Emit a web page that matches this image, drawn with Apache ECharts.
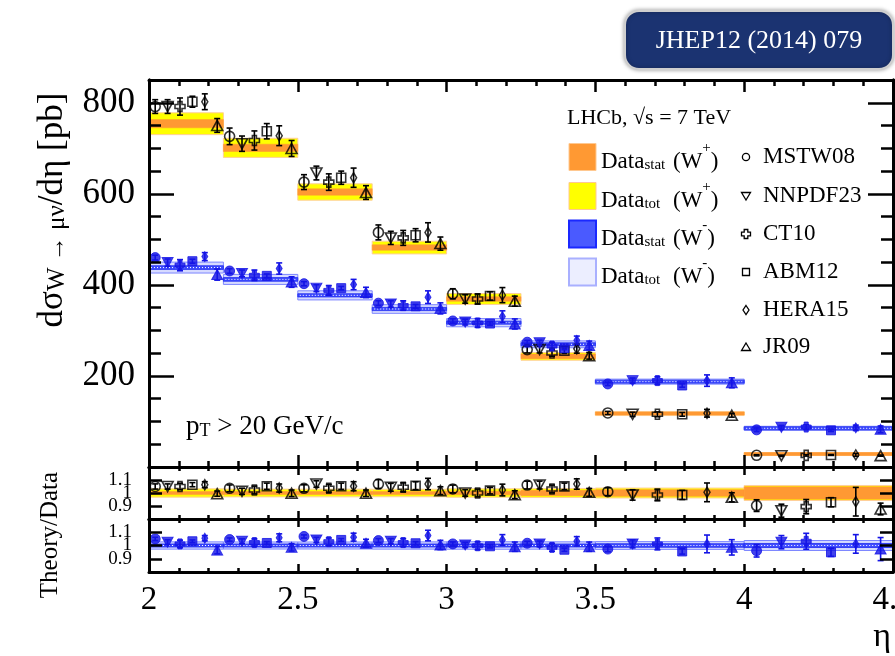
<!DOCTYPE html>
<html>
<head>
<meta charset="utf-8">
<script src="https://cdn.jsdelivr.net/npm/echarts/dist/echarts.min.js"></script>
<style>
  html, body { margin: 0; padding: 0; background: #fff; }
  #chart { width: 895px; height: 656px; }
</style>
</head>
<body>
<div id="chart"></div>
<script>
// ---- eta bins ----
const etaLo = [2.0, 2.25, 2.5, 2.75, 3.0, 3.25, 3.5, 4.0];
const etaHi = [2.25, 2.5, 2.75, 3.0, 3.25, 3.5, 4.0, 4.5];

// ---- measured dsigma/deta [pb] with stat and total uncertainties ----
const wPlus      = [754, 701, 604, 482, 369, 243, 117.5, 28.5];
const wPlusStat  = [9, 8, 7, 6, 5, 5, 3, 1.35];
const wPlusTot   = [24, 21, 18, 14, 12, 8.5, 4.5, 1.65];
const wMinus     = [438, 412, 377, 347, 317, 269.5, 187.5, 85];
const wMinusStat = [4, 4, 3.5, 3.5, 3, 3, 2.5, 1.3];
const wMinusTot  = [12, 11, 10, 9.5, 9, 7.5, 5.5, 3.2];

// ---- theory / data ratios (W+) ----
const mstwPlus  = [1.050, 1.036, 1.036, 1.069, 1.031, 1.061, 1.010, 0.903];
const nnpdfPlus = [1.050, 1.013, 1.069, 1.044, 1.000, 1.061, 0.985, 0.864];
const ct10Plus  = [1.050, 1.023, 1.036, 1.044, 1.000, 1.031, 0.985, 0.895];
const abmPlus   = [1.064, 1.052, 1.052, 1.056, 1.018, 1.051, 0.985, 0.929];
const heraPlus  = [1.064, 1.038, 1.052, 1.069, 1.023, 1.069, 1.005, 0.933];
const jrPlus    = [0.995, 0.998, 0.998, 1.018, 0.987, 1.005, 0.967, 0.877];
const mstwPlusErr  = [0.020, 0.026, 0.027, 0.034, 0.030, 0.030, 0.030, 0.045];
const nnpdfPlusErr = [0.020, 0.024, 0.025, 0.030, 0.025, 0.030, 0.040, 0.050];
const ct10PlusErr  = [0.025, 0.030, 0.030, 0.034, 0.030, 0.030, 0.045, 0.055];
const abmPlusErr   = [0.016, 0.024, 0.024, 0.030, 0.025, 0.025, 0.035, 0.035];
const heraPlusErr  = [0.023, 0.031, 0.035, 0.044, 0.045, 0.040, 0.072, 0.110];
const jrPlusErr    = [0.020, 0.025, 0.025, 0.030, 0.030, 0.030, 0.035, 0.045];

// ---- theory / data ratios (W-) ----
const mstwMinus  = [1.050, 1.045, 1.068, 1.037, 1.012, 1.017, 0.973, 0.960];
const nnpdfMinus = [1.025, 1.032, 1.042, 1.032, 1.004, 1.012, 1.012, 1.025];
const ct10Minus  = [1.012, 1.022, 1.029, 1.022, 0.998, 0.986, 1.012, 1.032];
const abmMinus   = [1.032, 1.019, 1.042, 1.017, 0.994, 0.968, 0.955, 0.948];
const heraMinus  = [1.055, 1.058, 1.063, 1.075, 1.042, 1.032, 1.012, 1.012];
const jrMinus    = [0.965, 0.986, 1.017, 1.004, 0.991, 0.991, 0.986, 0.973];
const mstwMinusErr  = [0.012, 0.012, 0.012, 0.015, 0.015, 0.015, 0.020, 0.047];
const nnpdfMinusErr = [0.018, 0.018, 0.020, 0.020, 0.020, 0.022, 0.030, 0.050];
const ct10MinusErr  = [0.028, 0.028, 0.028, 0.030, 0.030, 0.030, 0.045, 0.060];
const abmMinusErr   = [0.010, 0.010, 0.010, 0.012, 0.012, 0.012, 0.020, 0.030];
const heraMinusErr  = [0.020, 0.030, 0.030, 0.040, 0.040, 0.035, 0.067, 0.070];
const jrMinusErr    = [0.028, 0.028, 0.030, 0.035, 0.035, 0.035, 0.058, 0.087];

const pdfNames = ['MSTW08', 'NNPDF23', 'CT10', 'ABM12', 'HERA15', 'JR09'];

// ---- styling ----
const FONT = '"Liberation Serif", "Times New Roman", "DejaVu Serif", serif';
const BLUE = '#1414e6';
const SYMBOLS = [
  { symbol: 'circle', size: 10 },
  { symbol: 'path://M0,0L10,0L5,9Z', size: [11, 10] },
  { symbol: 'path://M3,0L7,0L7,3L10,3L10,7L7,7L7,10L3,10L3,7L0,7L0,3L3,3Z', size: 10 },
  { symbol: 'rect', size: 9 },
  { symbol: 'diamond', size: [6, 10] },
  { symbol: 'path://M5,0L10,9L0,9Z', size: [11, 10] }
];

const pdfs = [
  { plus: mstwPlus,  plusErr: mstwPlusErr,  minus: mstwMinus,  minusErr: mstwMinusErr },
  { plus: nnpdfPlus, plusErr: nnpdfPlusErr, minus: nnpdfMinus, minusErr: nnpdfMinusErr },
  { plus: ct10Plus,  plusErr: ct10PlusErr,  minus: ct10Minus,  minusErr: ct10MinusErr },
  { plus: abmPlus,   plusErr: abmPlusErr,   minus: abmMinus,   minusErr: abmMinusErr },
  { plus: heraPlus,  plusErr: heraPlusErr,  minus: heraMinus,  minusErr: heraMinusErr },
  { plus: jrPlus,    plusErr: jrPlusErr,    minus: jrMinus,    minusErr: jrMinusErr }
];

// horizontal slot of the i-th prediction inside a bin
function slotX(b, i) {
  return etaLo[b] + (i + 0.5) * (etaHi[b] - etaLo[b]) / 6;
}

// ---- renderers ----
function bandRenderer(fill, stroke, lw, minH, dots) {
  return function (params, api) {
    const lo = api.value(0), hi = api.value(1), c = api.value(2), h = api.value(3);
    const a = api.coord([lo, c + h]);
    const b = api.coord([hi, c - h]);
    let y0 = a[1], y1 = b[1];
    if (y1 - y0 < minH) { const m = (y0 + y1) / 2; y0 = m - minH / 2; y1 = m + minH / 2; }
    const children = [{
      type: 'rect',
      shape: { x: a[0], y: y0, width: b[0] - a[0], height: y1 - y0 },
      style: { fill: fill, stroke: stroke, lineWidth: lw }
    }];
    if (dots) {
      const m = (y0 + y1) / 2;
      children.push({
        type: 'line',
        shape: { x1: a[0] + 2, y1: m, x2: b[0] - 2, y2: m },
        style: { stroke: '#ffffff', lineWidth: 1, lineDash: [1, 2] }
      });
    }
    return { type: 'group', children: children };
  };
}

function errRenderer(color) {
  return function (params, api) {
    const x = api.value(0), y = api.value(1), e = api.value(2);
    const t = api.coord([x, y + e]);
    const d = api.coord([x, y - e]);
    const cw = 3;
    const st = { stroke: color, lineWidth: 1.6 };
    return {
      type: 'group',
      children: [
        { type: 'line', shape: { x1: t[0], y1: t[1], x2: d[0], y2: d[1] }, style: st },
        { type: 'line', shape: { x1: t[0] - cw, y1: t[1], x2: t[0] + cw, y2: t[1] }, style: st },
        { type: 'line', shape: { x1: d[0] - cw, y1: d[1], x2: d[0] + cw, y2: d[1] }, style: st }
      ]
    };
  };
}

function bandSeries(xi, yi, rows, fill, stroke, lw, minH, dots, z) {
  return {
    type: 'custom', xAxisIndex: xi, yAxisIndex: yi, clip: true, z: z,
    renderItem: bandRenderer(fill, stroke, lw, minH, dots),
    encode: { x: [0, 1], y: 2 },
    data: rows
  };
}

const series = [];

// main panel bands
const bins = etaLo.map((_, b) => b);
series.push(bandSeries(0, 0, bins.map(b => [etaLo[b], etaHi[b], wPlus[b], wPlusTot[b]]), '#ffff00', '#ffcf9a', 1, 3, false, 1));
series.push(bandSeries(0, 0, bins.map(b => [etaLo[b], etaHi[b], wPlus[b], wPlusStat[b]]), '#ff9933', '#ff9933', 0.5, 3, false, 1));
series.push(bandSeries(0, 0, bins.map(b => [etaLo[b], etaHi[b], wMinus[b], wMinusTot[b]]), 'rgba(200,205,255,0.75)', '#7d86ff', 1, 4, false, 1));
series.push(bandSeries(0, 0, bins.map(b => [etaLo[b], etaHi[b], wMinus[b], wMinusStat[b]]), '#3f4cff', '#1f2cf0', 0.8, 3, true, 1));

// ratio panel bands
series.push(bandSeries(2, 4, bins.map(b => [etaLo[b], etaHi[b], 1, wPlusTot[b] / wPlus[b]]), '#ffff00', '#ffcf9a', 1, 3, false, 1));
series.push(bandSeries(2, 4, bins.map(b => [etaLo[b], etaHi[b], 1, wPlusStat[b] / wPlus[b]]), '#ff9933', '#ff9933', 0.5, 3, false, 1));
series.push(bandSeries(4, 6, bins.map(b => [etaLo[b], etaHi[b], 1, wMinusTot[b] / wMinus[b]]), 'rgba(200,205,255,0.75)', '#7d86ff', 1, 4, false, 1));
series.push(bandSeries(4, 6, bins.map(b => [etaLo[b], etaHi[b], 1, wMinusStat[b] / wMinus[b]]), '#3f4cff', '#1f2cf0', 0.8, 3, true, 1));

// predictions
pdfs.forEach((p, i) => {
  const sym = SYMBOLS[i];
  const openStyle = { color: 'rgba(0,0,0,0)', borderColor: '#000', borderWidth: 1.6 };
  const fillStyle = { color: BLUE, borderColor: BLUE, borderWidth: 1 };
  const sets = [
    // [xAxis, yAxis, values, errors, color, style]
    [0, 0, bins.map(b => wPlus[b] * p.plus[b]),   bins.map(b => wPlus[b] * p.plusErr[b]),   '#000', openStyle],
    [0, 0, bins.map(b => wMinus[b] * p.minus[b]), bins.map(b => wMinus[b] * p.minusErr[b]), BLUE,   fillStyle],
    [2, 4, p.plus,  p.plusErr,  '#000', openStyle],
    [4, 6, p.minus, p.minusErr, BLUE,   fillStyle]
  ];
  sets.forEach(s => {
    series.push({
      type: 'custom', xAxisIndex: s[0], yAxisIndex: s[1], clip: true, z: 3,
      renderItem: errRenderer(s[4]),
      encode: { x: 0, y: 1 },
      data: bins.map(b => [slotX(b, i), s[2][b], s[3][b]])
    });
    series.push({
      type: 'scatter', name: pdfNames[i], xAxisIndex: s[0], yAxisIndex: s[1], z: 4,
      symbol: sym.symbol, symbolSize: sym.size,
      itemStyle: s[5], emphasis: { disabled: true },
      data: bins.map(b => [slotX(b, i), s[2][b]])
    });
  });
});

// ---- axes ----
function xAx(grid, pos, majorLen, minorLen, labels) {
  return {
    type: 'value', gridIndex: grid, position: pos, min: 2, max: 4.5, interval: 0.5, z: 10,
    axisLine: { show: true, onZero: false, lineStyle: { color: '#000', width: 3 } },
    axisTick: { show: true, inside: true, length: majorLen, lineStyle: { color: '#000', width: 2.5 } },
    minorTick: { show: true, splitNumber: 5, length: minorLen, lineStyle: { color: '#000', width: 2.5 } },
    splitLine: { show: false }, minorSplitLine: { show: false },
    axisLabel: { show: labels, color: '#000', fontFamily: FONT, fontSize: 33, margin: 12 }
  };
}
function yAx(grid, pos, min, max, interval, len, labelOpt) {
  return {
    type: 'value', gridIndex: grid, position: pos, min: min, max: max, interval: interval, z: 10, offset: 0,
    axisLine: { show: true, onZero: false, lineStyle: { color: '#000', width: 3 } },
    axisTick: { show: true, inside: true, length: len, lineStyle: { color: '#000', width: 2.5 } },
    splitLine: { show: false },
    axisLabel: labelOpt || { show: false }
  };
}
const mainLabel = {
  show: true, color: '#000', fontFamily: FONT, fontSize: 35, margin: 14,
  formatter: v => (v > 0 && v <= 800) ? String(v) : ''
};
const ratioLabel = {
  show: true, color: '#000', fontFamily: FONT, fontSize: 19, margin: 17,
  formatter: v => { const r = Math.round(v * 10) / 10; return r === 1.1 ? '1.1' : r === 1 ? '1' : r === 0.9 ? '0.9' : ''; }
};

const graphics = [];
// journal badge
graphics.push({
  type: 'rect', shape: { x: 625, y: 11, width: 268, height: 58, r: 14 },
  style: { fill: '#1b3371', stroke: '#cfcfcf', lineWidth: 2, shadowBlur: 4, shadowColor: 'rgba(0,0,0,0.35)' }
});
graphics.push({
  type: 'text', x: 759, y: 41,
  style: { text: 'JHEP12 (2014) 079', fill: '#ffffff', fontSize: 26, fontFamily: FONT, textAlign: 'center', textVerticalAlign: 'middle', align: 'center', verticalAlign: 'middle' }
});
// axis titles
graphics.push({
  type: 'text', x: 47, y: 210, rotation: Math.PI / 2,
  style: {
    text: '{m|dσ}{s|W → μν}{m|/dη [pb]}',
    rich: {
      m: { fontSize: 35, fontFamily: FONT, lineHeight: 46, verticalAlign: 'bottom', fill: '#000', color: '#000' },
      s: { fontSize: 25, fontFamily: FONT, lineHeight: 24, verticalAlign: 'bottom', fill: '#000', color: '#000' }
    },
    textAlign: 'center', textVerticalAlign: 'middle', align: 'center', verticalAlign: 'middle'
  }
});
graphics.push({
  type: 'text', x: 50, y: 535, rotation: Math.PI / 2,
  style: { text: 'Theory/Data', fill: '#000', fontSize: 25, fontFamily: FONT, textAlign: 'center', textVerticalAlign: 'middle', align: 'center', verticalAlign: 'middle' }
});
graphics.push({
  type: 'text', x: 891, y: 637,
  style: { text: 'η', fill: '#000', fontSize: 34, fontFamily: FONT, textAlign: 'right', textVerticalAlign: 'middle', align: 'right', verticalAlign: 'middle' }
});
graphics.push({
  type: 'text', x: 186, y: 421,
  style: {
    text: '{m|p}{s|T}{m| > 20 GeV/c}',
    rich: {
      m: { fontSize: 27, fontFamily: FONT, lineHeight: 38, verticalAlign: 'bottom', fill: '#000', color: '#000' },
      s: { fontSize: 18, fontFamily: FONT, lineHeight: 16, verticalAlign: 'bottom', fill: '#000', color: '#000' }
    },
    textAlign: 'left', textVerticalAlign: 'middle', align: 'left', verticalAlign: 'middle'
  }
});
// legend
graphics.push({
  type: 'text', x: 567, y: 118,
  style: { text: 'LHCb, √s = 7 TeV', fill: '#000', fontSize: 22, fontFamily: FONT, textAlign: 'left', textVerticalAlign: 'middle', align: 'left', verticalAlign: 'middle' }
});
const legRows = [157, 196, 234, 272];
const legBoxes = [
  { fill: '#ff9933', stroke: '#ffc890', lw: 1, sub: 'stat', sign: '+' },
  { fill: '#ffff00', stroke: '#ffc890', lw: 1, sub: 'tot', sign: '+' },
  { fill: '#4a5aff', stroke: '#1a28ff', lw: 2, sub: 'stat', sign: '-' },
  { fill: '#eceeff', stroke: '#a9b0ff', lw: 2, sub: 'tot', sign: '-' }
];
legBoxes.forEach((e, k) => {
  const cy = legRows[k];
  graphics.push({ type: 'rect', shape: { x: 569, y: cy - 13.5, width: 27, height: 27 }, style: { fill: e.fill, stroke: e.stroke, lineWidth: e.lw } });
  graphics.push({
    type: 'text', x: 601, y: cy,
    style: {
      text: '{m|Data}{s|' + e.sub + '}',
      rich: {
        m: { fontSize: 23, fontFamily: FONT, lineHeight: 32, verticalAlign: 'bottom', fill: '#000', color: '#000' },
        s: { fontSize: 15, fontFamily: FONT, lineHeight: 14, verticalAlign: 'bottom', fill: '#000', color: '#000' }
      },
      textAlign: 'left', textVerticalAlign: 'middle', align: 'left', verticalAlign: 'middle'
    }
  });
  graphics.push({
    type: 'text', x: 673, y: cy,
    style: {
      text: '{m|(W}{p|' + e.sign + '}{m|)}',
      rich: {
        m: { fontSize: 23, fontFamily: FONT, lineHeight: 32, verticalAlign: 'bottom', fill: '#000', color: '#000' },
        p: { fontSize: 15, fontFamily: FONT, lineHeight: 18, verticalAlign: 'top', fill: '#000', color: '#000' }
      },
      textAlign: 'left', textVerticalAlign: 'middle', align: 'left', verticalAlign: 'middle'
    }
  });
});
const pdfRows = [157, 196, 234, 272, 310, 347];
const mx = 746;
function legendMarker(k, cy) {
  const st = { fill: 'none', stroke: '#000', lineWidth: 1.3 };
  switch (k) {
    case 0: return { type: 'circle', shape: { cx: mx, cy: cy, r: 3.6 }, style: st };
    case 1: return { type: 'polygon', shape: { points: [[mx - 4.5, cy - 3.5], [mx + 4.5, cy - 3.5], [mx, cy + 4]] }, style: st };
    case 2: return { type: 'polygon', shape: { points: [[mx - 1.8, cy - 4.5], [mx + 1.8, cy - 4.5], [mx + 1.8, cy - 1.8], [mx + 4.5, cy - 1.8], [mx + 4.5, cy + 1.8], [mx + 1.8, cy + 1.8], [mx + 1.8, cy + 4.5], [mx - 1.8, cy + 4.5], [mx - 1.8, cy + 1.8], [mx - 4.5, cy + 1.8], [mx - 4.5, cy - 1.8], [mx - 1.8, cy - 1.8]] }, style: st };
    case 3: return { type: 'rect', shape: { x: mx - 3.5, y: cy - 3.5, width: 7, height: 7 }, style: st };
    case 4: return { type: 'polygon', shape: { points: [[mx, cy - 4.5], [mx + 3, cy], [mx, cy + 4.5], [mx - 3, cy]] }, style: st };
    default: return { type: 'polygon', shape: { points: [[mx, cy - 4], [mx + 4.5, cy + 3.5], [mx - 4.5, cy + 3.5]] }, style: st };
  }
}
pdfNames.forEach((n, k) => {
  graphics.push(legendMarker(k, pdfRows[k]));
  graphics.push({
    type: 'text', x: 763, y: pdfRows[k],
    style: { text: n, fill: '#000', fontSize: 23, fontFamily: FONT, textAlign: 'left', textVerticalAlign: 'middle', align: 'left', verticalAlign: 'middle' }
  });
});

const option = {
  animation: false,
  backgroundColor: '#ffffff',
  grid: [
    { left: 149, top: 80, width: 744, height: 387, outerBoundsMode: 'none', containLabel: false },
    { left: 149, top: 467, width: 744, height: 52, outerBoundsMode: 'none', containLabel: false },
    { left: 149, top: 519, width: 744, height: 53, outerBoundsMode: 'none', containLabel: false }
  ],
  xAxis: [
    xAx(0, 'bottom', 12, 6, false),
    xAx(0, 'top', 12, 6, false),
    xAx(1, 'bottom', 8, 4, false),
    xAx(1, 'top', 8, 4, false),
    xAx(2, 'bottom', 8, 4, true),
    xAx(2, 'top', 8, 4, false)
  ],
  yAxis: [
    yAx(0, 'left', 0, 850, 200, 25, mainLabel),
    yAx(0, 'left', 0, 850, 50, 12),
    yAx(0, 'right', 0, 850, 200, 25),
    yAx(0, 'right', 0, 850, 50, 12),
    yAx(1, 'left', 0.8, 1.2, 0.1, 13, ratioLabel),
    yAx(1, 'right', 0.8, 1.2, 0.1, 13),
    yAx(2, 'left', 0.8, 1.2, 0.1, 13, ratioLabel),
    yAx(2, 'right', 0.8, 1.2, 0.1, 13)
  ],
  series: series,
  graphic: { elements: graphics }
};

const chart = echarts.init(document.getElementById('chart'), null, { renderer: 'canvas' });
chart.setOption(option);
</script>
</body>
</html>
